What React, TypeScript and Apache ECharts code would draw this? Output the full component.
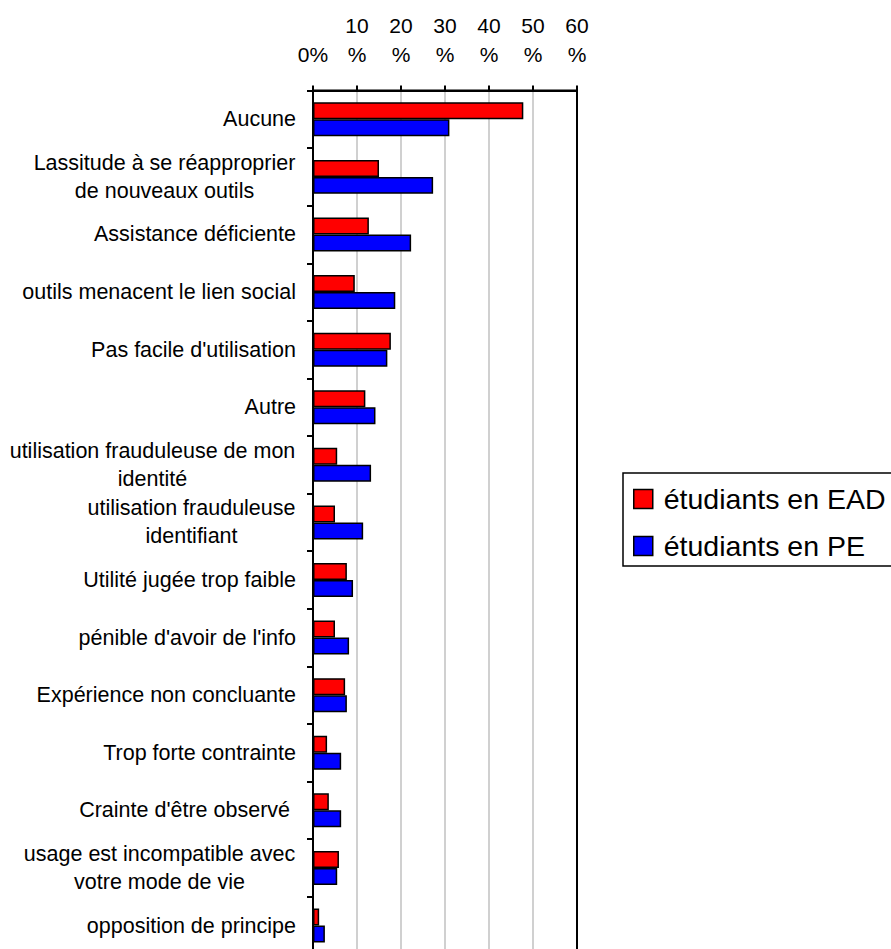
import React, { useEffect, useRef } from "react";
import * as echarts from "echarts";

const categories: string[] = [
  "Aucune",
  "Lassitude à se réapproprier\nde nouveaux outils",
  "Assistance déficiente",
  "outils menacent le lien social",
  "Pas facile d'utilisation",
  "Autre",
  "utilisation frauduleuse de mon\nidentité",
  "utilisation frauduleuse\nidentifiant",
  "Utilité jugée trop faible",
  "pénible d'avoir de l'info",
  "Expérience non concluante",
  "Trop forte contrainte",
  "Crainte d'être observé ",
  "usage est incompatible avec\nvotre mode de vie",
  "opposition de principe",
];

const seriesNames: string[] = ["étudiants en EAD", "étudiants en PE"];
const eadValues: number[] = [47.8, 15.0, 12.7, 9.5, 17.7, 11.9, 5.5, 5.0, 7.7, 5.0, 7.3, 3.2, 3.6, 5.9, 1.4];
const peValues: number[] = [31.0, 27.3, 22.3, 18.7, 16.9, 14.2, 13.2, 11.4, 9.1, 8.2, 7.7, 6.4, 6.4, 5.5, 2.7];
const xTicks: number[] = [0, 10, 20, 30, 40, 50, 60];

const FONT = "Arial, 'Liberation Sans', sans-serif";
const LABEL_SIZE = 21.5;

function measure(text: string, size: number): number {
  const c = document.createElement("canvas");
  const ctx = c.getContext("2d");
  if (!ctx) return text.length * size * 0.5;
  ctx.font = `${size}px 'Liberation Sans', Arial, sans-serif`;
  return ctx.measureText(text).width;
}

export default function App() {
  const ref = useRef<HTMLDivElement>(null);

  useEffect(() => {
    if (!ref.current) return;
    const chart = echarts.init(ref.current, undefined, { renderer: "svg" });

    const rich: Record<string, any> = {};
    categories.forEach((c, i) => {
      const lines = c.split("\n");
      if (lines.length > 1) {
        const w = Math.max(...lines.map((l) => measure(l, LABEL_SIZE)));
        rich["w" + i] = {
          width: Math.ceil(w) + 1,
          align: "center",
          fontSize: LABEL_SIZE,
          lineHeight: 28,
          fontFamily: FONT,
          color: "#000",
        };
      }
    });

    const option: any = {
      animation: false,
      backgroundColor: "#fff",
      textStyle: { fontFamily: FONT },
      grid: {
        left: 313,
        right: 314,
        top: 90.5,
        bottom: -5.3,
        containLabel: false,
        outerBoundsMode: "none",
        show: true,
        borderColor: "#000",
        borderWidth: 2,
        backgroundColor: "transparent",
      },
      legend: {
        orient: "vertical",
        left: 623,
        top: 473,
        padding: [11, 24, 5, 10],
        itemGap: 17,
        itemWidth: 19,
        itemHeight: 19,
        icon: "rect",
        borderColor: "#000",
        borderWidth: 1.5,
        borderRadius: 0,
        itemStyle: { borderColor: "#000", borderWidth: 1.5 },
        textStyle: {
          fontSize: 28.5,
          lineHeight: 30,
          color: "#000",
          fontFamily: FONT,
          padding: [0, 0, 0, 6],
        },
        data: seriesNames,
      },
      xAxis: {
        type: "value",
        position: "top",
        min: xTicks[0],
        max: xTicks[xTicks.length - 1],
        interval: 10,
        axisLine: { show: true, lineStyle: { color: "#000", width: 2 } },
        axisTick: { show: true, inside: false, length: 5, lineStyle: { color: "#000", width: 2 } },
        axisLabel: {
          margin: 22,
          fontSize: 21,
          lineHeight: 29,
          color: "#000",
          fontFamily: FONT,
          formatter: (v: number) => (v === 0 ? "0%" : v + "\n%"),
        },
        splitLine: {
          show: true,
          showMinLine: false,
          showMaxLine: false,
          lineStyle: { color: "#c0c0c0", width: 1.5 },
        },
      },
      yAxis: {
        type: "category",
        inverse: true,
        data: categories,
        axisLine: { show: true, lineStyle: { color: "#000", width: 2 } },
        axisTick: { show: true, length: 6, lineStyle: { color: "#000", width: 2 } },
        axisLabel: {
          margin: 17,
          fontSize: LABEL_SIZE,
          lineHeight: 28,
          color: "#000",
          fontFamily: FONT,
          interval: 0,
          align: "right",
          rich,
          formatter: (value: string, idx: number) => {
            const lines = value.split("\n");
            if (lines.length > 1) return lines.map((l) => `{w${idx}|${l}}`).join("\n");
            return value;
          },
        },
        splitLine: { show: false },
      },
      series: [
        {
          name: seriesNames[0],
          type: "bar",
          data: eadValues,
          barGap: "0%",
          barCategoryGap: "41%",
          itemStyle: { color: "#ff0000", borderColor: "#000", borderWidth: 1.5 },
        },
        {
          name: seriesNames[1],
          type: "bar",
          data: peValues,
          barGap: "0%",
          barCategoryGap: "41%",
          itemStyle: { color: "#0000ff", borderColor: "#000", borderWidth: 1.5 },
        },
      ],
    };

    chart.setOption(option);
    return () => chart.dispose();
  }, []);

  return (
    <div
      ref={ref}
      style={{ position: "absolute", left: 0, top: 0, width: 891, height: 949, background: "#fff" }}
    />
  );
}
